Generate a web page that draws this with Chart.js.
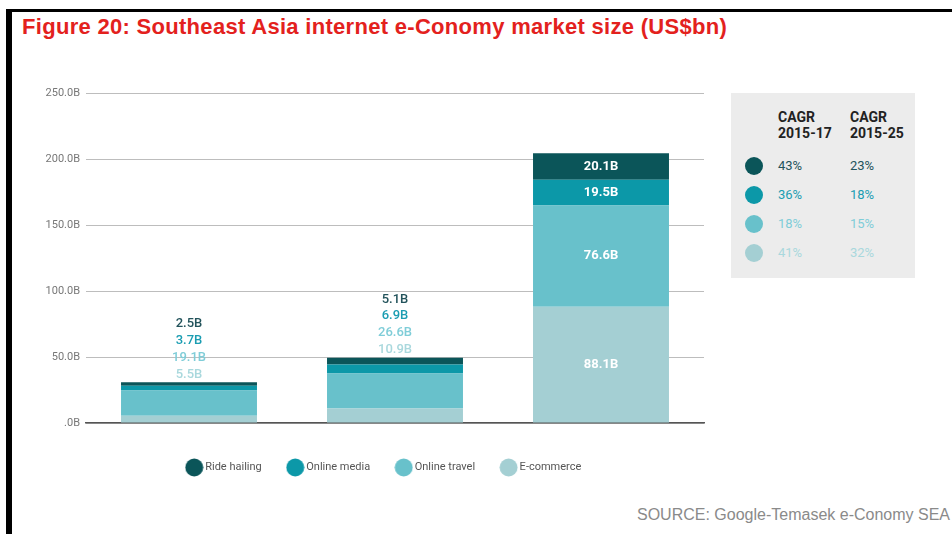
<!DOCTYPE html>
<html>
<head>
<meta charset="utf-8">
<script src="https://cdn.jsdelivr.net/npm/chart.js@4.4.1/dist/chart.umd.min.js"></script>
<style>
  body { margin: 0; width: 952px; height: 534px; background: #fff; position: relative; overflow: hidden; font-family: Roboto, sans-serif; }
  #moldura { position: absolute; left: 6px; top: 9px; right: 0; bottom: 0; border-left: 6px solid #000; border-top: 3px solid #000; }
  #titulo { position: absolute; left: 22px; top: 16px; font: bold 22px/22px "Liberation Sans", Arial, sans-serif; letter-spacing: 0.3px; color: #e3211d; white-space: nowrap; }
  #fonte { position: absolute; left: 637px; top: 507px; font: 16px/16px "Liberation Sans", Arial, sans-serif; color: #8a8a8a; white-space: nowrap; }
  #grafico { position: absolute; left: 0; top: 0; }
  #cagr { position: absolute; left: 731px; top: 93px; width: 184px; height: 185px; background: #ececec; }
  #cagr .cab { position: absolute; top: 16px; font: bold 14px/16px Roboto, sans-serif; color: #222; }
  #cagr .bola { position: absolute; width: 18px; height: 18px; border-radius: 50%; }
  #cagr .pct { position: absolute; font: 13px/16px Roboto, sans-serif; }
</style>
</head>
<body>
<div id="moldura"></div>
<div id="titulo">Figure 20: Southeast Asia internet e-Conomy market size (US$bn)</div>
<canvas id="grafico" width="770" height="485"></canvas>
<div id="cagr"></div>
<div id="fonte">SOURCE: Google-Temasek e-Conomy SEA</div>
<script>
// valores em US$ bilhões
const anos = ['2015', '2017', '2025'];
const segmentos = ['Ride hailing', 'Online media', 'Online travel', 'E-commerce'];
const rideHailing = [2.5, 5.1, 20.1];
const onlineMedia = [3.7, 6.9, 19.5];
const onlineTravel = [19.1, 26.6, 76.6];
const eCommerce = [5.5, 10.9, 88.1];
const cagr1517 = ['43%', '36%', '18%', '41%'];
const cagr1525 = ['23%', '18%', '15%', '32%'];
const ticksY = [0, 50, 100, 150, 200, 250];

const coresBarra = ['#0b5559', '#0c98a8', '#68c1cb', '#a4cfd3'];
const coresTexto = ['#23535b', '#1b9db2', '#7fcdd8', '#a9d8dd'];

Chart.defaults.font.family = 'Roboto';

// bolinha usada como marcador da legenda
function criarBolinha(cor) {
  const c = document.createElement('canvas');
  c.width = 19; c.height = 19;
  const g = c.getContext('2d');
  g.fillStyle = cor;
  g.beginPath();
  g.arc(9.5, 9.5, 9, 0, Math.PI * 2);
  g.fill();
  return c;
}
const bolinhas = coresBarra.map(criarBolinha);

// segmentos empilhados de baixo para cima
const series = [eCommerce, onlineTravel, onlineMedia, rideHailing];
const indiceSeg = [3, 2, 1, 0];

const formatarB = v => v.toFixed(1) + 'B';

// rótulos de valor: dentro da barra quando cabe, senão empilhados acima
const rotulosValor = {
  id: 'rotulosValor',
  afterDatasetsDraw(chart) {
    const ctx = chart.ctx;
    ctx.save();
    ctx.textAlign = 'center';
    ctx.textBaseline = 'middle';
    chart.data.labels.forEach((ano, i) => {
      const barras = chart.data.datasets.map((d, k) => chart.getDatasetMeta(k).data[i]);
      const cabe = barras.every(b => Math.abs(b.base - b.y) >= 18);
      if (cabe) {
        ctx.font = 'bold 13px Roboto';
        ctx.fillStyle = '#ffffff';
        barras.forEach((b, k) => {
          ctx.fillText(formatarB(chart.data.datasets[k].data[i]), b.x, (b.y + b.base) / 2);
        });
      } else {
        const topo = Math.min(...barras.map(b => b.y));
        ctx.font = '500 13px Roboto';
        barras.forEach((b, k) => {
          ctx.fillStyle = coresTexto[indiceSeg[k]];
          ctx.fillText(formatarB(chart.data.datasets[k].data[i]), b.x, topo - 8 - k * 16.8);
        });
      }
    });
    ctx.restore();
  }
};

// legenda deslocada para a direita, fora da faixa dos rótulos do eixo y
const moverLegenda = {
  id: 'moverLegenda',
  afterLayout(chart) {
    chart.legend.left = 66;
    chart.legend.right = chart.chartArea.right;
  }
};

const grafico = new Chart(document.getElementById('grafico'), {
  type: 'bar',
  data: {
    labels: anos,
    datasets: series.map((dados, k) => ({
      label: segmentos[indiceSeg[k]],
      data: dados,
      backgroundColor: coresBarra[indiceSeg[k]],
      barPercentage: 0.66,
      categoryPercentage: 1
    }))
  },
  options: {
    responsive: false,
    animation: false,
    layout: { padding: { top: 93, left: 0, right: 66, bottom: 2 } },
    scales: {
      x: {
        stacked: true,
        grid: { display: false },
        border: { color: '#555', width: 1.5 },
        ticks: { color: '#555', font: { size: 11 }, padding: 4 },
        afterFit(scale) { scale.height = 11; }
      },
      y: {
        stacked: true,
        min: 0,
        max: 250,
        border: { display: false },
        grid: { color: '#bdbdbd', drawTicks: false },
        afterBuildTicks(scale) { scale.ticks = ticksY.map(v => ({ value: v })); },
        ticks: {
          color: '#777',
          font: { size: 11 },
          padding: 6,
          callback: v => v === 0 ? '.0B' : formatarB(v)
        },
        afterFit(scale) { scale.width = 86; }
      }
    },
    plugins: {
      tooltip: { enabled: false },
      legend: {
        position: 'bottom',
        reverse: true,
        labels: {
          usePointStyle: true,
          color: '#555',
          font: { size: 11 },
          padding: 28,
          generateLabels(chart) {
            const itens = Chart.defaults.plugins.legend.labels.generateLabels(chart);
            itens.forEach(it => { it.pointStyle = bolinhas[indiceSeg[it.datasetIndex]]; });
            return itens;
          }
        }
      }
    }
  },
  plugins: [rotulosValor, moverLegenda]
});

// quadro de CAGR ao lado do gráfico
const quadro = document.getElementById('cagr');
[['2015-17', 47], ['2015-25', 119]].forEach(([periodo, x]) => {
  const d = document.createElement('div');
  d.className = 'cab';
  d.style.left = x + 'px';
  d.innerHTML = 'CAGR<br>' + periodo;
  quadro.appendChild(d);
});
segmentos.forEach((seg, k) => {
  const yc = 73 + k * 29;
  const bola = document.createElement('div');
  bola.className = 'bola';
  bola.style.left = '14px';
  bola.style.top = (yc - 9) + 'px';
  bola.style.background = coresBarra[k];
  quadro.appendChild(bola);
  [[cagr1517[k], 47], [cagr1525[k], 119]].forEach(([txt, x]) => {
    const p = document.createElement('div');
    p.className = 'pct';
    p.style.left = x + 'px';
    p.style.top = (yc - 8) + 'px';
    p.style.color = coresTexto[k];
    p.textContent = txt;
    quadro.appendChild(p);
  });
});
</script>
</body>
</html>
